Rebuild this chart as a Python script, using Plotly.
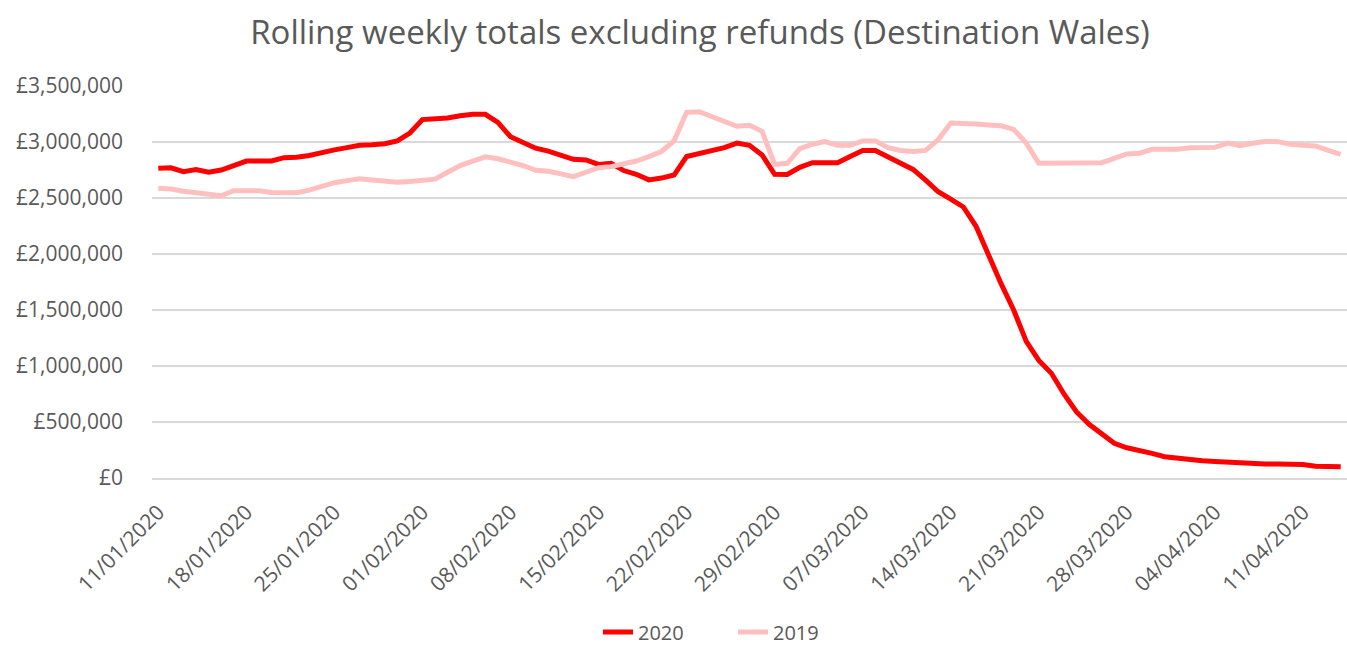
import pandas as pd
import plotly.graph_objects as go

start_date = "2020-01-11"

sales_2020 = [
    2765, 2770, 2735, 2755, 2730, 2750, 2790, 2830, 2830, 2830,
    2860, 2863, 2880, 2910, 2930, 2950, 2970, 2975, 2985, 3010,
    3080, 3200, 3205, 3215, 3235, 3247, 3247, 3175, 3047, 2990,
    2945, 2918, 2884, 2845, 2840, 2800, 2810, 2745, 2712, 2662,
    2678, 2705, 2870, 2895, 2925, 2950, 2990, 2970, 2884, 2712,
    2710, 2774, 2815, 2815, 2815, 2870, 2925, 2925, 2868, 2810,
    2755, 2660, 2556, 2490, 2420, 2250, 1990, 1735, 1500, 1220,
    1050, 935, 750, 590, 480, 390, 310, 270, 250, 220,
    190, 175, 160, 155, 148, 140, 130, 125, 125, 125,
    125, 120, 105, 100, 100,
]

sales_2019 = [
    2587, 2580, 2560, 2547, 2542, 2520, 2565, 2568, 2565, 2550,
    2547, 2547, 2570, 2600, 2637, 2655, 2672, 2660, 2650, 2640,
    2648, 2660, 2668, 2730, 2790, 2830, 2868, 2850, 2820, 2790,
    2748, 2738, 2715, 2690, 2730, 2770, 2780, 2800, 2830, 2870,
    2915, 3010, 3265, 3270, 3225, 3180, 3140, 3150, 3095, 2800,
    2810, 2940, 2980, 3003, 2970, 2970, 3010, 3010, 2950, 2925,
    2915, 2925, 3020, 3170, 3168, 3160, 3152, 3145, 3113, 2990,
    2810, 2810, 2810, 2810, 2810, 2815, 2854, 2893, 2900, 2935,
    2935, 2935, 2948, 2950, 2952, 2990, 2967, 2988, 3005, 3003,
    2980, 2970, 2965, 2925, 2890,
]

dates = pd.date_range(start_date, periods=len(sales_2020), freq="D")

fig = go.Figure()
fig.add_trace(go.Scatter(
    x=dates, y=[v * 1000 for v in sales_2020], name="2020", mode="lines",
    line=dict(color="#FF0000", width=5),
))
fig.add_trace(go.Scatter(
    x=dates, y=[v * 1000 for v in sales_2019], name="2019", mode="lines",
    line=dict(color="#FFBFBF", width=5),
))

font_family = "Open Sans, Liberation Sans, sans-serif"
grey = "#595959"

fig.update_layout(
    width=1347, height=649,
    paper_bgcolor="white", plot_bgcolor="white",
    margin=dict(l=152, r=0, t=86, b=171, autoexpand=False),
    title=dict(
        text="Rolling weekly totals excluding refunds (Destination Wales)",
        xref="container", x=700 / 1347, xanchor="center",
        y=1 - 32 / 649, yanchor="middle",
        font=dict(family=font_family, size=33, color=grey),
    ),
    showlegend=True,
    legend=dict(
        orientation="h", x=(598 - 152) / 1195, xanchor="left",
        y=-(632 - 478) / 392, yanchor="middle",
        entrywidth=90, entrywidthmode="pixels",
        font=dict(family=font_family, size=20, color=grey),
    ),
    xaxis=dict(
        type="date", automargin=False,
        range=["2020-01-10 12:00", "2020-04-14 12:00"],
        tick0="2020-01-11", dtick=7 * 24 * 3600 * 1000,
        tickformat="%d/%m/%Y", tickangle=-45,
        showgrid=False, showline=True, linecolor="#D9D9D9", linewidth=1.5,
        ticks="", ticklabelstandoff=12,
        tickfont=dict(family=font_family, size=21, color=grey),
        zeroline=False,
    ),
    yaxis=dict(
        automargin=False,
        range=[0, 3500000], dtick=500000,
        tickprefix="£", tickformat=",d",
        showgrid=True, gridcolor="#D9D9D9", gridwidth=1.5,
        showline=False, zeroline=False, ticks="",
        ticklabelstandoff=28,
        tickfont=dict(family=font_family, size=21, color=grey),
    ),
)

fig.write_html(
    "out.html",
    config={"displayModeBar": False},
    post_script="document.body.style.margin='0';document.body.style.overflow='hidden';",
)
